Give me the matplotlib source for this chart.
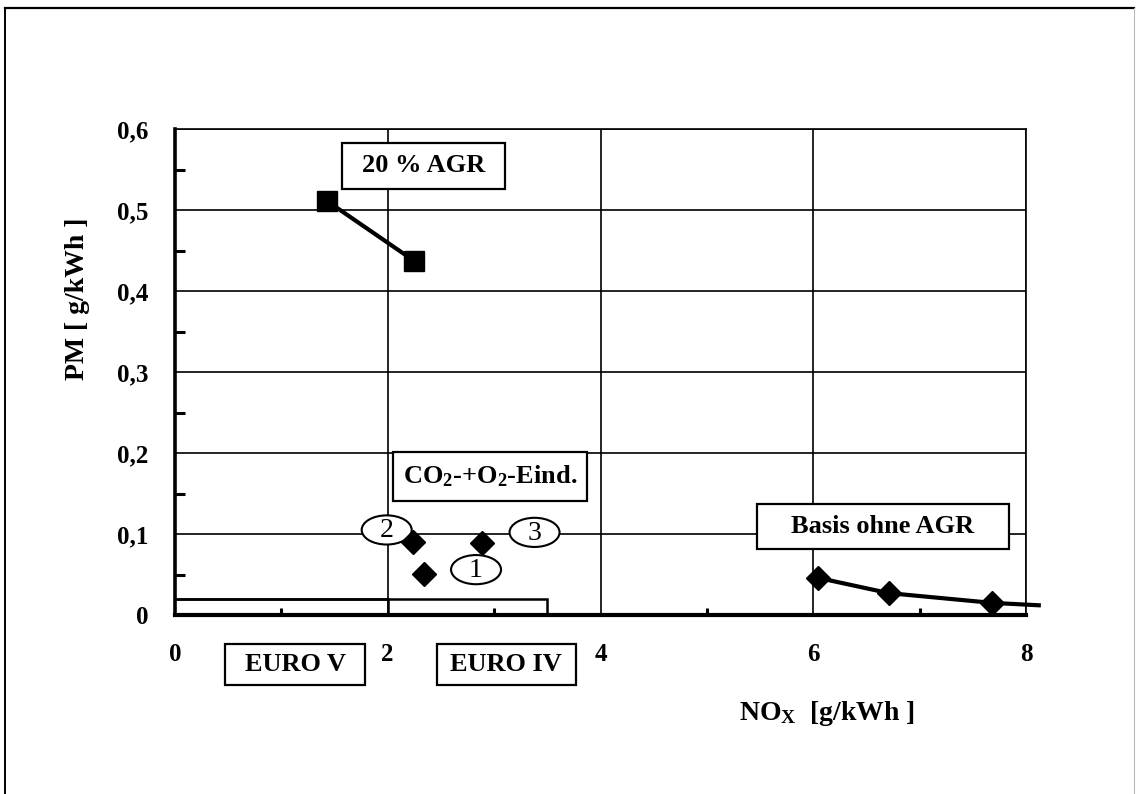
import matplotlib
matplotlib.use("Agg")
import matplotlib.pyplot as plt
from matplotlib.patches import Rectangle, Ellipse
from matplotlib.lines import Line2D

plt.rcParams["font.family"] = ["Liberation Serif", "DejaVu Serif"]
plt.rcParams["font.weight"] = "bold"
plt.rcParams["mathtext.fontset"] = "custom"
plt.rcParams["mathtext.rm"] = "Liberation Serif:bold"
plt.rcParams["mathtext.it"] = "Liberation Serif:bold"
plt.rcParams["mathtext.bf"] = "Liberation Serif:bold"

# ---- data ----
agr_nox = [1.43, 2.25]
agr_pm = [0.511, 0.437]

inj_nox = [2.34, 2.24, 2.89]
inj_pm = [0.051, 0.090, 0.089]
inj_labels = ["1", "2", "3"]

basis_nox = [6.04, 6.71, 7.68]
basis_pm = [0.046, 0.027, 0.015]
basis_tail_nox = [8.12]
basis_tail_pm = [0.012]

euro_names = ["EURO V", "EURO IV"]
euro_nox = [2.0, 3.5]
euro_pm = [0.02, 0.02]

x_ticks = [0, 2, 4, 6, 8]
x_tick_labels = ["0", "2", "4", "6", "8"]
y_ticks = [0, 0.1, 0.2, 0.3, 0.4, 0.5, 0.6]
y_tick_labels = ["0", "0,1", "0,2", "0,3", "0,4", "0,5", "0,6"]

# ---- figure ----
W, H = 1136, 794
fig = plt.figure(figsize=(W / 100, H / 100), dpi=100)
ax = fig.add_axes([175 / W, 1 - 615 / H, (1026 - 175) / W, (615 - 129) / H])
ax.set_xlim(0, 8)
ax.set_ylim(0, 0.6)

# outer frame of the figure
fig.add_artist(Line2D([5 / W, 1134 / W], [1 - 8 / H, 1 - 8 / H], color="black", lw=1.6))
fig.add_artist(Line2D([5 / W, 5 / W], [1 - 8 / H, 0], color="black", lw=1.4))
fig.add_artist(Line2D([1134 / W, 1134 / W], [1 - 8 / H, 0], color="#bbbbbb", lw=0.8))

# axes styling
ax.set_xticks(x_ticks)
ax.set_xticklabels(x_tick_labels)
ax.set_yticks(y_ticks)
ax.set_yticklabels(y_tick_labels)
ax.set_xticks([1, 3, 5, 7], minor=True)
ax.set_yticks([0.05, 0.15, 0.25, 0.35, 0.45, 0.55], minor=True)
ax.tick_params(which="major", length=0, labelsize=18)
ax.tick_params(axis="x", which="major", pad=20)
ax.tick_params(axis="y", which="major", pad=19)
ax.tick_params(which="minor", direction="in", width=2.2)
ax.tick_params(axis="y", which="minor", length=7)
ax.tick_params(axis="x", which="minor", length=5)
for lab in ax.get_xticklabels() + ax.get_yticklabels():
    lab.set_fontweight("bold")

ax.grid(which="major", color="black", lw=1.2)
ax.set_axisbelow(True)
ax.spines["left"].set_linewidth(2.6)
ax.spines["bottom"].set_linewidth(3.0)
ax.spines["top"].set_linewidth(1.2)
ax.spines["right"].set_linewidth(1.2)

# emission limits
for nox, pm in zip(euro_nox, euro_pm):
    ax.plot([0, nox, nox], [pm, pm, 0], color="black", lw=1.8, zorder=3,
            solid_joinstyle="miter")

# 20 % AGR series
ax.plot(agr_nox, agr_pm, color="black", lw=3, marker="s", markersize=15,
        zorder=5)

# baseline without AGR
ax.plot(basis_nox + basis_tail_nox, basis_pm + basis_tail_pm, color="black",
        lw=3, zorder=5, clip_on=False)
ax.plot(basis_nox, basis_pm, ls="none", color="black", marker="D",
        markersize=12, zorder=6)

# CO2 + O2 injection points
ax.plot(inj_nox, inj_pm, ls="none", color="black", marker="D", markersize=12,
        zorder=6)

# numbered ellipse labels
label_offsets = [(0.49, 0.005), (-0.25, 0.015), (0.49, 0.013)]
for x, y, t, (dx, dy) in zip(inj_nox, inj_pm, inj_labels, label_offsets):
    ax.add_patch(Ellipse((x + dx, y + dy), 0.47, 0.036, facecolor="white",
                         edgecolor="black", lw=1.5, zorder=4))
    ax.text(x + dx, y + dy - 0.001, t, ha="center", va="center", fontsize=20,
            fontweight="normal", zorder=7)


def boxed(x0, x1, y0, y1, text, clip=True):
    ax.add_patch(Rectangle((x0, y0), x1 - x0, y1 - y0, facecolor="white",
                           edgecolor="black", lw=1.6, zorder=4, clip_on=clip))
    ax.text((x0 + x1) / 2, (y0 + y1) / 2, text, ha="center", va="center",
            fontsize=19, fontweight="bold", zorder=7, clip_on=False)


boxed(1.57, 3.10, 0.526, 0.583, "20 % AGR")
boxed(2.05, 3.87, 0.141, 0.201, "CO$_2$-+O$_2$-Eind.")
boxed(5.47, 7.84, 0.081, 0.137, "Basis ohne AGR")
boxed(0.47, 1.79, -0.086, -0.036, euro_names[0], clip=False)
boxed(2.46, 3.77, -0.086, -0.036, euro_names[1], clip=False)

# axis titles
fig.text(77 / W, 1 - 299 / H, "PM [ g/kWh ]", rotation=90, ha="center",
         va="center", fontsize=20, fontweight="bold")
fig.text(827 / W, 1 - 713 / H, "NO$_\\mathrm{X}$  [g/kWh ]", ha="center",
         va="center", fontsize=20, fontweight="bold")

fig.savefig("out.png", dpi=100)
